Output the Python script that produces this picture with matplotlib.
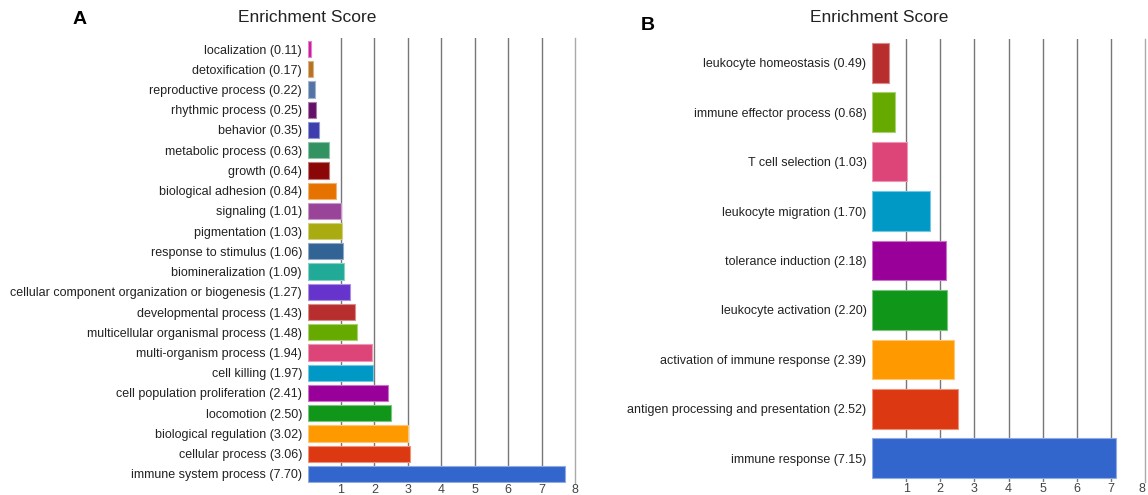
import numpy as np
import matplotlib
matplotlib.use('Agg')
import matplotlib.pyplot as plt
from matplotlib.colors import to_rgb

plt.rcParams['font.family'] = ['Liberation Sans', 'DejaVu Sans']

# panel A, listed bottom to top
terms_a = ['immune system process', 'cellular process', 'biological regulation',
           'locomotion', 'cell population proliferation', 'cell killing',
           'multi-organism process', 'multicellular organismal process',
           'developmental process', 'cellular component organization or biogenesis',
           'biomineralization', 'response to stimulus', 'pigmentation', 'signaling',
           'biological adhesion', 'growth', 'metabolic process', 'behavior',
           'rhythmic process', 'reproductive process', 'detoxification', 'localization']
scores_a = [7.70, 3.06, 3.02, 2.50, 2.41, 1.97, 1.94, 1.48, 1.43, 1.27, 1.09,
            1.06, 1.03, 1.01, 0.84, 0.64, 0.63, 0.35, 0.25, 0.22, 0.17, 0.11]
colors_a = ['#3366CC', '#DC3912', '#FF9900', '#109618', '#990099', '#0099C6',
            '#DD4477', '#66AA00', '#B82E2E', '#6633CC', '#22AA99', '#316395',
            '#AAAA11', '#994499', '#E67300', '#8B0707', '#329262', '#3B3EAC',
            '#651067', '#5574A6', '#B77322', '#CC1A9E']

# panel B, bottom to top
terms_b = ['immune response', 'antigen processing and presentation',
           'activation of immune response', 'leukocyte activation',
           'tolerance induction', 'leukocyte migration', 'T cell selection',
           'immune effector process', 'leukocyte homeostasis']
scores_b = [7.15, 2.52, 2.39, 2.20, 2.18, 1.70, 1.03, 0.68, 0.49]
colors_b = ['#3366CC', '#DC3912', '#FF9900', '#109618', '#990099', '#0099C6',
            '#DD4477', '#66AA00', '#B82E2E']

ticks = [1, 2, 3, 4, 5, 6, 7, 8]

W, H = 1148, 495
fig = plt.figure(figsize=(W / 100, H / 100), dpi=100)


def lighter(c, f=0.45):
    r, g, b = to_rgb(c)
    return (r + (1 - r) * f, g + (1 - g) * f, b + (1 - b) * f)


def panel(left, right, top, bottom, terms, scores, colors, lo, hi, fs=9):
    ax = fig.add_axes([left / W, 1 - bottom / H, (right - left) / W, (bottom - top) / H])
    y = np.arange(len(terms))
    ax.barh(y, scores, height=0.8, color=colors,
            edgecolor=[lighter(c) for c in colors], linewidth=0.8, zorder=3)
    ax.set_yticks(y)
    ax.set_yticklabels(['%s (%.2f)' % (t, s) for t, s in zip(terms, scores)],
                       fontsize=fs, color='#222222')
    ax.set_xticks(ticks)
    ax.set_xticklabels([str(t) for t in ticks], fontsize=fs, color='#444444')
    ax.set_xlim(0, 8)
    ax.set_ylim(-lo, len(terms) - 1 + hi)
    ax.tick_params(length=0)
    ax.tick_params(axis='y', pad=4)
    ax.tick_params(axis='x', pad=1)
    ax.xaxis.grid(True, color='#777777', linewidth=1)
    ax.set_axisbelow(True)
    last = ax.get_xgridlines()[-1]
    last.set_color('#AAAAAA')
    last.set_clip_on(False)
    for s in ax.spines.values():
        s.set_visible(False)
    return ax


ax1 = panel(307.5, 575, 38.3, 483, terms_a, scores_a, colors_a, 0.45, 0.53)
ax2 = panel(872, 1145, 39, 482, terms_b, scores_b, colors_b, 0.48, 0.48)
# keep the last tick label of panel B inside the picture
ax2.get_xticklabels()[-1].set_horizontalalignment('right')

fig.text(307 / W, 1 - 18 / H, 'Enrichment Score', ha='center', va='center',
         fontsize=12.5, color='#222222')
fig.text(879 / W, 1 - 18 / H, 'Enrichment Score', ha='center', va='center',
         fontsize=12.5, color='#222222')
fig.text(80 / W, 1 - 19 / H, 'A', ha='center', va='center', fontsize=14,
         fontweight='bold')
fig.text(648 / W, 1 - 26 / H, 'B', ha='center', va='center', fontsize=14,
         fontweight='bold')

fig.savefig('out.png', dpi=100)
